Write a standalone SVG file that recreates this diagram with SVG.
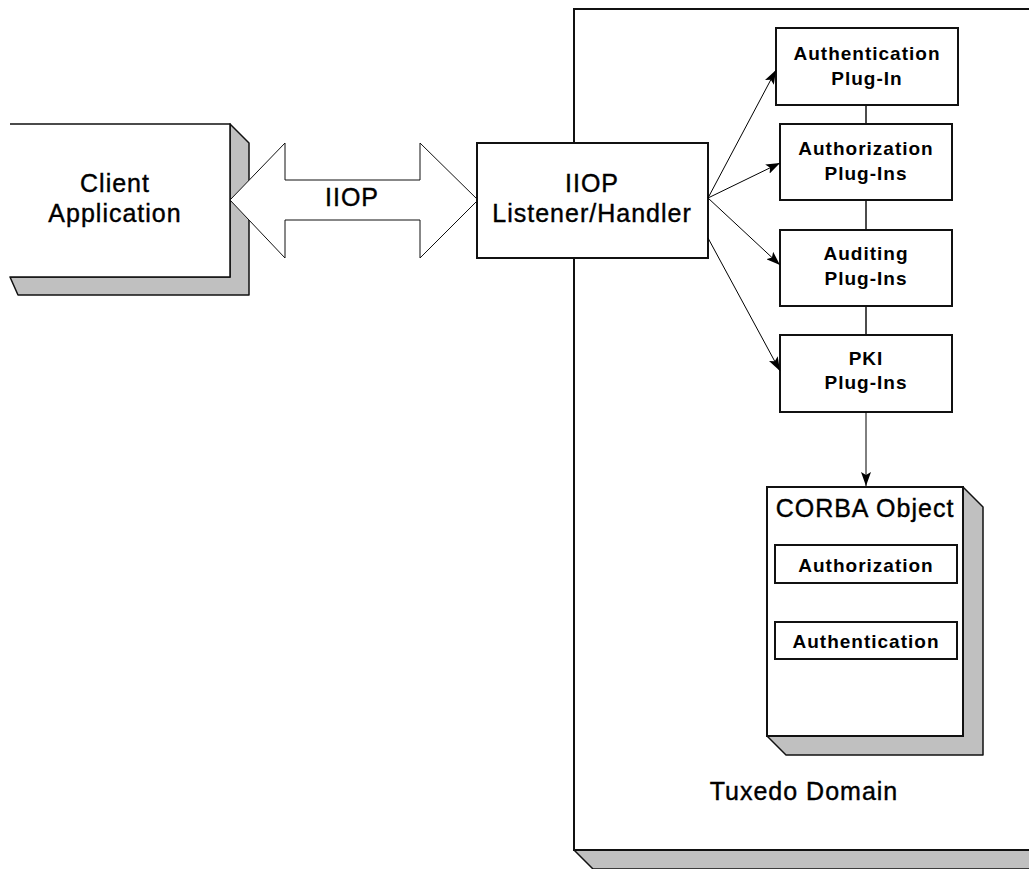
<svg xmlns="http://www.w3.org/2000/svg" width="1029" height="869" viewBox="0 0 1029 869">
<style>
.box{fill:#fff;stroke:#111;stroke-width:2}
.shadow{fill:#c0c0c0;stroke:#111;stroke-width:1.5;stroke-linejoin:round}
.big{font-family:"Liberation Sans",Arial,sans-serif;font-size:25px;letter-spacing:1px;fill:#000;stroke:#000;stroke-width:0.4;text-anchor:middle}
.small{font-family:"Liberation Sans",Arial,sans-serif;font-size:19px;font-weight:bold;letter-spacing:1px;fill:#000;text-anchor:middle}
.conn{fill:none;stroke:#000;stroke-width:1}
.plain{fill:none;stroke:#111;stroke-width:1.5}
</style>
<defs>
<marker id="arr" viewBox="0 0 14 10" refX="14" refY="5" markerWidth="14" markerHeight="10" markerUnits="userSpaceOnUse" orient="auto">
<path d="M0,0 L14,5 L0,10 L3,5 z" fill="#000"/>
</marker>
</defs>
<rect width="1029" height="869" fill="#fff"/>

<g id="tuxedo-domain">
<polygon class="shadow" points="574,850 593,869 1040,869 1040,850"/>
<rect class="box" x="574" y="9" width="470" height="841"/>
<text class="big" x="804" y="800">Tuxedo Domain</text>
</g>

<g id="client-application">
<polygon class="shadow" points="230,124 249,143 249,295 18,295 10,277 230,277"/>
<rect x="10" y="124" width="220" height="153" fill="#fff"/>
<polyline class="plain" points="10,124 230,124 230,277 10,277" stroke-width="2"/>
<text class="big" x="115" y="192">Client</text>
<text class="big" x="115" y="222">Application</text>
</g>

<g id="iiop-arrow">
<polygon points="230,200 285,143 285,180 420,180 420,143 478,200 420,258 420,220 285,220 285,258" fill="#fff" stroke="#111" stroke-width="1"/>
<text class="big" x="352" y="206">IIOP</text>
</g>

<g id="iiop-listener">
<rect class="box" x="477" y="143" width="231" height="115"/>
<text class="big" x="592" y="192">IIOP</text>
<text class="big" x="592" y="222">Listener/Handler</text>
</g>

<g id="authentication-plugin">
<rect class="box" x="776" y="28" width="182" height="77"/>
<text class="small" x="867" y="60">Authentication</text>
<text class="small" x="867" y="85">Plug-In</text>
</g>

<g id="authorization-plugins">
<rect class="box" x="780" y="124" width="172" height="76"/>
<text class="small" x="866" y="155">Authorization</text>
<text class="small" x="866" y="180">Plug-Ins</text>
</g>

<g id="auditing-plugins">
<rect class="box" x="780" y="230" width="172" height="76"/>
<text class="small" x="866" y="260">Auditing</text>
<text class="small" x="866" y="285">Plug-Ins</text>
</g>

<g id="pki-plugins">
<rect class="box" x="780" y="335" width="172" height="77"/>
<text class="small" x="866" y="365">PKI</text>
<text class="small" x="866" y="389">Plug-Ins</text>
</g>

<g id="corba-object">
<polygon class="shadow" points="963,487 983,507 983,755 786,755 767,736 963,736"/>
<rect class="box" x="767" y="487" width="196" height="249"/>
<text class="big" x="865" y="517">CORBA Object</text>
<rect class="box" x="775" y="545" width="182" height="38"/>
<text class="small" x="866" y="572">Authorization</text>
<rect class="box" x="775" y="622" width="182" height="37"/>
<text class="small" x="866" y="648">Authentication</text>
</g>

<g id="connectors">
<line class="conn" x1="708" y1="198" x2="776" y2="70" marker-end="url(#arr)"/>
<line class="conn" x1="708" y1="198" x2="780" y2="163" marker-end="url(#arr)"/>
<line class="conn" x1="708" y1="198" x2="780" y2="265" marker-end="url(#arr)"/>
<line class="conn" x1="708" y1="238" x2="780" y2="371" marker-end="url(#arr)"/>
<line class="plain" x1="866" y1="105" x2="866" y2="124"/>
<line class="plain" x1="866" y1="200" x2="866" y2="230"/>
<line class="plain" x1="866" y1="306" x2="866" y2="335"/>
<line class="conn" x1="866" y1="412" x2="866" y2="486" stroke-width="1.5" marker-end="url(#arr)"/>
</g>
</svg>
